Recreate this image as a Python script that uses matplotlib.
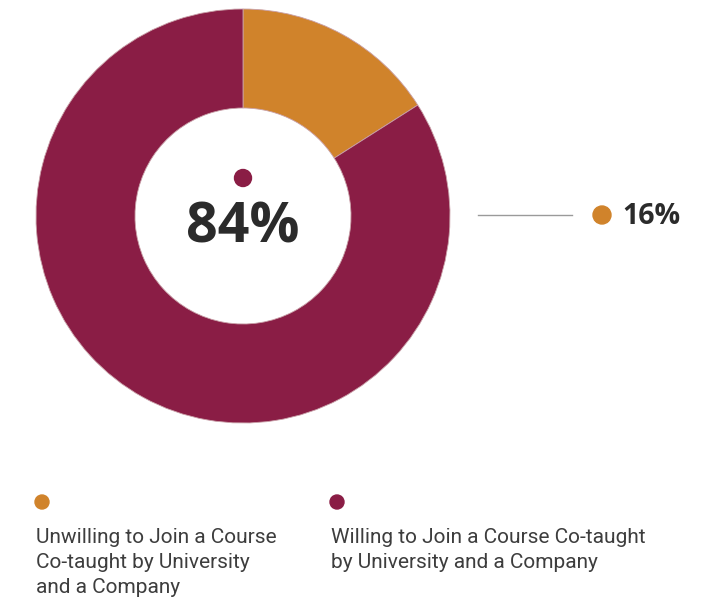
import matplotlib.pyplot as plt
from matplotlib.patches import Circle

# share of respondents
labels = ["Unwilling to Join a Course\nCo-taught by University\nand a Company",
          "Willing to Join a Course Co-taught\nby University and a Company"]
values = [16, 84]
colors = ["#D0832B", "#8A1D45"]

W, H = 720, 602
fig = plt.figure(figsize=(W / 100, H / 100), dpi=100)
ax = fig.add_axes([0, 0, 1, 1])

cx, cy, r = 243, H - 216, 207
ax.pie(values, colors=colors, startangle=90, counterclock=False,
       center=(cx, cy), radius=r, frame=True,
       wedgeprops=dict(width=r - 108, linewidth=0.6, edgecolor="#c9a0a8"))
ax.set_xlim(0, W)
ax.set_ylim(0, H)
ax.set_aspect("equal")
ax.axis("off")

# big value in the hole
ax.add_patch(Circle((cx, H - 178), 8.5, color=colors[1], zorder=5))
ax.text(cx, H - 228, f"{values[1]}%", ha="center", va="center",
        fontsize=40, fontweight="bold", family="Open Sans", color="#2b2b2b")

# callout for the small slice
ax.plot([478, 572], [H - 215, H - 215], color="#9a9a9a", lw=1)
ax.add_patch(Circle((602, H - 215), 9, color=colors[0], zorder=5))
ax.text(622, H - 217, f"{values[0]}%", ha="left", va="center",
        fontsize=20.5, fontweight="bold", family="Open Sans", color="#2b2b2b")

# legend
for x, lab, c in zip([42, 337], labels, colors):
    ax.add_patch(Circle((x, H - 502), 7, color=c, zorder=5))
    ax.text(x - 6, H - 528, lab, ha="left", va="top", fontsize=15,
            family="Roboto", color="#3d3d3d", linespacing=1.4)

fig.savefig("out.png", dpi=100)
